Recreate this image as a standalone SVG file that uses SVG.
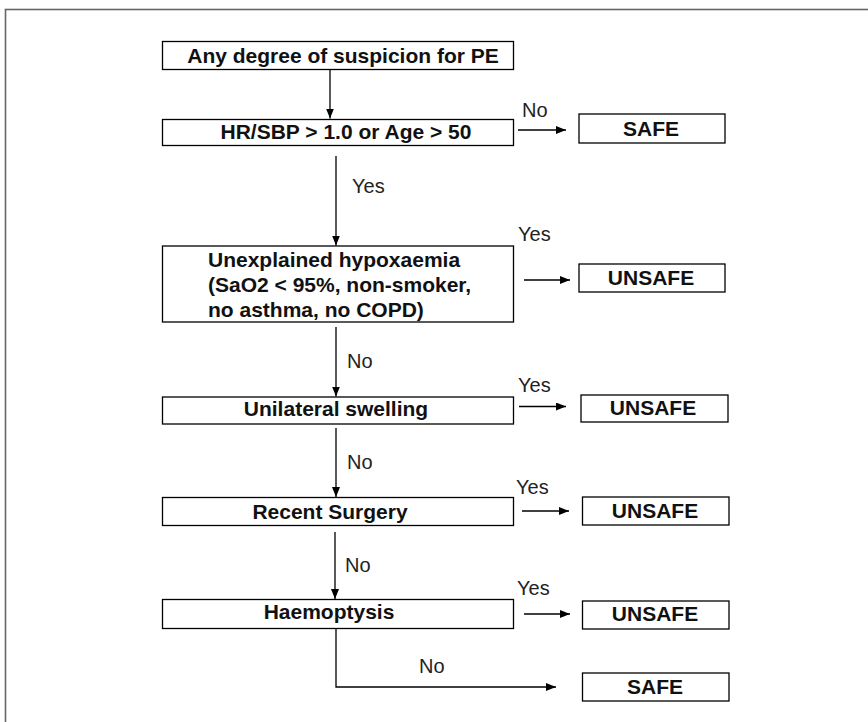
<svg xmlns="http://www.w3.org/2000/svg" width="868" height="722" viewBox="0 0 868 722">
<style>
.box{fill:#fff;stroke:#000;stroke-width:1.3}
.t{font-family:"Liberation Sans",Arial,sans-serif;font-size:21px;font-weight:bold;fill:#111;text-anchor:middle}
.tl{font-family:"Liberation Sans",Arial,sans-serif;font-size:21px;font-weight:bold;fill:#111}
.lbl{font-family:"Liberation Sans",Arial,sans-serif;font-size:20px;fill:#222}
.c{fill:none;stroke:#000;stroke-width:1.3;marker-end:url(#ah)}
</style>
<defs>
<marker id="ah" markerWidth="10" markerHeight="8" refX="10" refY="4" orient="auto" markerUnits="userSpaceOnUse"><path d="M0,0 L10,4 L0,8 z" fill="#000"/></marker>
</defs>
<rect x="0" y="0" width="868" height="722" fill="#fff"/>
<rect x="5.5" y="9.5" width="880" height="730" fill="none" stroke="#666" stroke-width="1.6"/>

<g id="connectors">
<path class="c" d="M330,70 V118.5"/>
<path class="c" d="M518,130 H566"/>
<path class="c" d="M336,156 V245.5"/>
<path class="c" d="M524,280 H570"/>
<path class="c" d="M336,327 V396.5"/>
<path class="c" d="M519,406.5 H566"/>
<path class="c" d="M336,428 V497"/>
<path class="c" d="M522,511 H569"/>
<path class="c" d="M335,532 V599"/>
<path class="c" d="M524,614 H570"/>
<path class="c" d="M336,629 V687 H556"/>
</g>

<g id="labels">
<text class="lbl" x="522" y="117">No</text>
<text class="lbl" x="352" y="193">Yes</text>
<text class="lbl" x="518" y="241">Yes</text>
<text class="lbl" x="347" y="368">No</text>
<text class="lbl" x="518" y="392">Yes</text>
<text class="lbl" x="347" y="469">No</text>
<text class="lbl" x="516" y="494">Yes</text>
<text class="lbl" x="345" y="572">No</text>
<text class="lbl" x="517" y="595">Yes</text>
<text class="lbl" x="419" y="673">No</text>
</g>

<g id="n1"><rect class="box" x="162.5" y="41.5" width="351" height="28"/><text class="t" x="343" y="62.5">Any degree of suspicion for PE</text></g>
<g id="n2"><rect class="box" x="162.5" y="119.5" width="351" height="26"/><text class="t" x="346" y="139">HR/SBP &gt; 1.0 or Age &gt; 50</text></g>
<g id="n3"><rect class="box" x="162.5" y="246" width="351" height="76"/>
<text class="tl" x="208" y="267">Unexplained hypoxaemia</text>
<text class="tl" x="208" y="292">(SaO2 &lt; 95%, non-smoker,</text>
<text class="tl" x="208" y="317">no asthma, no COPD)</text></g>
<g id="n4"><rect class="box" x="162.5" y="397" width="351" height="27"/><text class="t" x="336" y="416">Unilateral swelling</text></g>
<g id="n5"><rect class="box" x="162.5" y="497.5" width="351" height="28"/><text class="t" x="330" y="518.5">Recent Surgery</text></g>
<g id="n6"><rect class="box" x="162.5" y="599.5" width="351" height="29"/><text class="t" x="329" y="618.5">Haemoptysis</text></g>

<g id="safe1"><rect class="box" x="579" y="114" width="146" height="29"/><text class="t" x="651" y="135.5">SAFE</text></g>
<g id="unsafe1"><rect class="box" x="579" y="264" width="146" height="28"/><text class="t" x="651" y="285">UNSAFE</text></g>
<g id="unsafe2"><rect class="box" x="581" y="395" width="147" height="27"/><text class="t" x="653" y="415">UNSAFE</text></g>
<g id="unsafe3"><rect class="box" x="582.5" y="497" width="146.5" height="28"/><text class="t" x="655" y="518">UNSAFE</text></g>
<g id="unsafe4"><rect class="box" x="582.5" y="601" width="146.5" height="28"/><text class="t" x="655" y="621">UNSAFE</text></g>
<g id="safe2"><rect class="box" x="582.5" y="673" width="146.5" height="28"/><text class="t" x="655" y="694">SAFE</text></g>
</svg>
